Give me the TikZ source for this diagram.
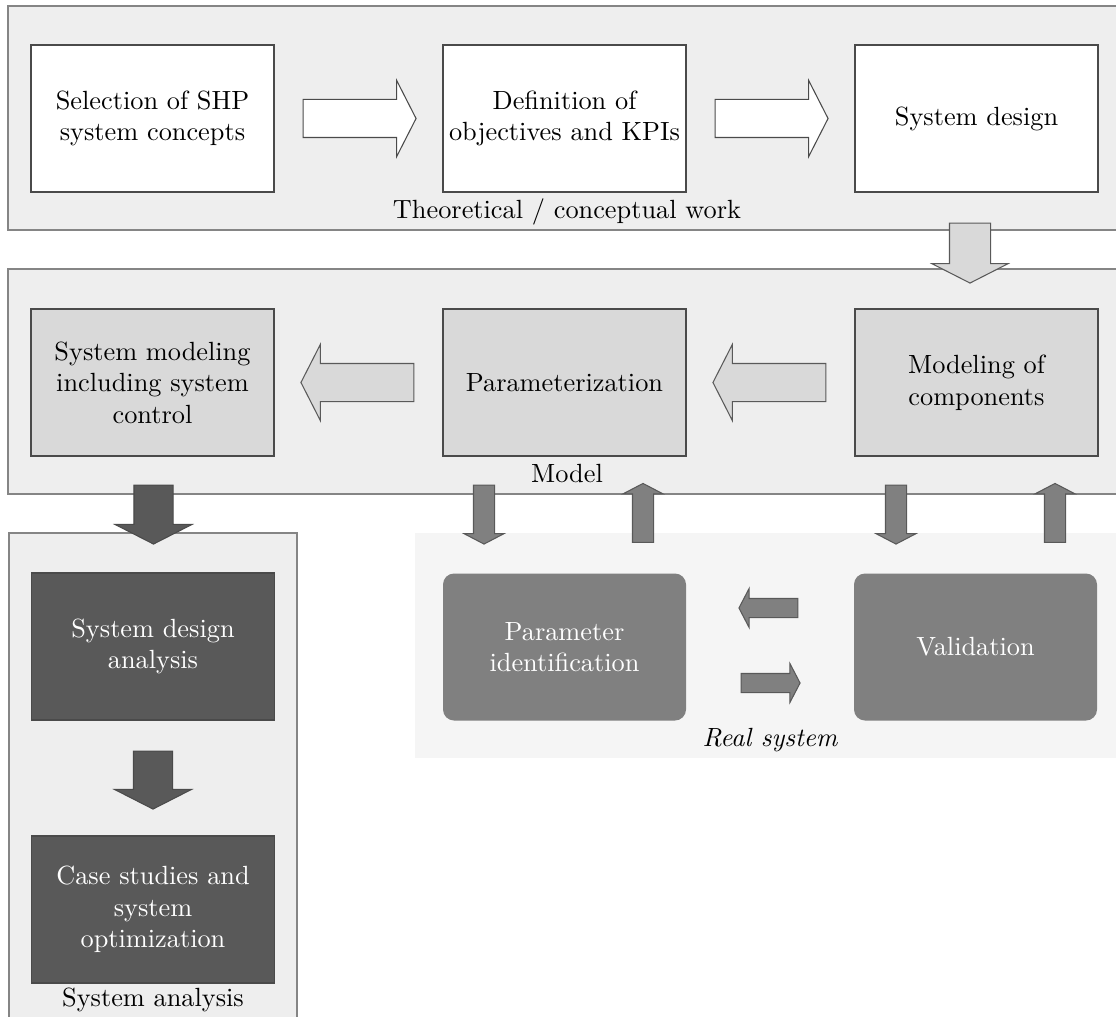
\documentclass[tikz,border=0pt]{standalone}
\usetikzlibrary{shapes.arrows,calc}
\def\unitpx{0.38pt}
\definecolor{panelfill}{HTML}{EEEEEE}
\definecolor{realfill}{HTML}{F5F5F5}
\definecolor{lightfill}{HTML}{D9D9D9}
\definecolor{midfill}{HTML}{808080}
\definecolor{darkfill}{HTML}{595959}
\definecolor{panelline}{HTML}{858585}
\definecolor{boxline}{HTML}{4A4A4A}
\tikzset{
  panel/.style={draw=panelline, fill=panelfill, line width=0.55pt},
  stagebox/.style={rectangle, draw=boxline, line width=0.4pt, align=center,
    minimum width=243*\unitpx, minimum height=147*\unitpx, inner sep=0pt},
  whitebox/.style={stagebox, fill=white},
  graybox/.style={stagebox, fill=lightfill},
  darkbox/.style={stagebox, fill=darkfill, text=white},
  roundbox/.style={stagebox, draw=none, fill=midfill, text=white,
    rounded corners=11*\unitpx},
  % half shaft width, for arrows pointing left/right and up/down
  hshaft/.style={inner xsep=0pt, inner ysep=#1*\unitpx},
  vshaft/.style={inner ysep=0pt, inner xsep=#1*\unitpx},
  blockarrow/.style={single arrow, anchor=tail, line width=0.4pt,
    single arrow tip angle=126, single arrow head indent=0pt},
  bigarrow/.style={blockarrow, minimum height=113*\unitpx,
    single arrow head extend=19*\unitpx},
  shortarrow/.style={blockarrow, minimum height=59*\unitpx,
    single arrow head extend=19*\unitpx},
  thinarrow/.style={blockarrow, minimum height=59*\unitpx,
    single arrow head extend=9.5*\unitpx,
    single arrow tip angle=125, draw=darkfill, fill=midfill},
  right/.style={shape border rotate=0, hshaft=#1},
  left/.style={shape border rotate=180, hshaft=#1},
  up/.style={shape border rotate=90, vshaft=#1},
  down/.style={shape border rotate=270, vshaft=#1},
}
\begin{document}
\begin{tikzpicture}[x=0.38pt, y=-0.38pt, font=\fontsize{10}{12}\selectfont]
  \clip (0,0) rectangle (1116,1017);

  % group panels
  \draw[panel] (8,6) rectangle (1140,230);
  \draw[panel] (8,269) rectangle (1140,494);
  \fill[realfill] (415,533) rectangle (1140,758);
  \draw[panel] (9,533) rectangle (297,1040);

  % theoretical / conceptual work
  \node[whitebox] (sel)  at (152.5,118.5) {Selection of SHP\\system concepts};
  \node[whitebox] (def)  at (564.5,118.5) {Definition of\\objectives and KPIs};
  \node[whitebox] (sysd) at (976.5,118.5) {System design};
  \node (ltheo) at (567,212) {Theoretical / conceptual work};

  % model
  \node[graybox] (sysmod) at (152.5,382.5) {System modeling\\including system\\control};
  \node[graybox] (param)  at (564.5,382.5) {Parameterization};
  \node[graybox] (modc)   at (976.5,382.5) {Modeling of\\components};
  \node (lmodel) at (567,474) {Model};

  % real system
  \node[roundbox] (pid) at (564.5,647) {Parameter\\identification};
  \node[roundbox] (val) at (975.5,647) {Validation};
  \node (lreal) at (770,740) {\itshape Real system};

  % system analysis
  \node[darkbox] (sda) at (153,646.5) {System design\\analysis};
  \node[darkbox] (cs)  at (153,909.5) {Case studies and\\system\\optimization};
  \node (lana) at (153,1000) {System analysis};

  % block arrows between the stages (placed by their tails)
  \node[bigarrow, right=18.5, draw=boxline, fill=white] (a1) at ($(sel.east)+(28,0)$) {};
  \node[bigarrow, right=18.5, draw=boxline, fill=white] (a2) at ($(def.east)+(28,0)$) {};
  \node[shortarrow, down=20, minimum height=60*\unitpx,
        single arrow head extend=17.5*\unitpx, draw=darkfill, fill=lightfill]
        (a3) at ($(sysd.south)+(-6.5,30)$) {};
  \node[bigarrow, left=18.5, draw=darkfill, fill=lightfill] (a4) at ($(param.west)+(-28,0)$) {};
  \node[bigarrow, left=18.5, draw=darkfill, fill=lightfill] (a5) at ($(modc.west)+(-28,0)$) {};
  \node[shortarrow, down=19, draw=boxline, fill=darkfill] (a6) at ($(sysmod.south)+(1,28)$) {};
  \node[thinarrow, down=10] (a7)  at ($(param.south)+(-80.5,28)$) {};
  \node[thinarrow, up=10]   (a8)  at ($(pid.north)+(78.5,-30)$) {};
  \node[thinarrow, down=10] (a9)  at ($(modc.south)+(-80.5,28)$) {};
  \node[thinarrow, up=10]   (a10) at ($(val.north)+(79.5,-30)$) {};
  \node[thinarrow, left=9, single arrow head extend=10*\unitpx]
        (a11) at ($(val.west)+(-55,-39)$) {};
  \node[thinarrow, right=9, single arrow head extend=10*\unitpx]
        (a12) at ($(pid.east)+(54,36)$) {};
  \node[shortarrow, down=19, minimum height=58*\unitpx, draw=boxline, fill=darkfill]
        (a13) at ($(sda.south)+(0,30)$) {};
\end{tikzpicture}
\end{document}
